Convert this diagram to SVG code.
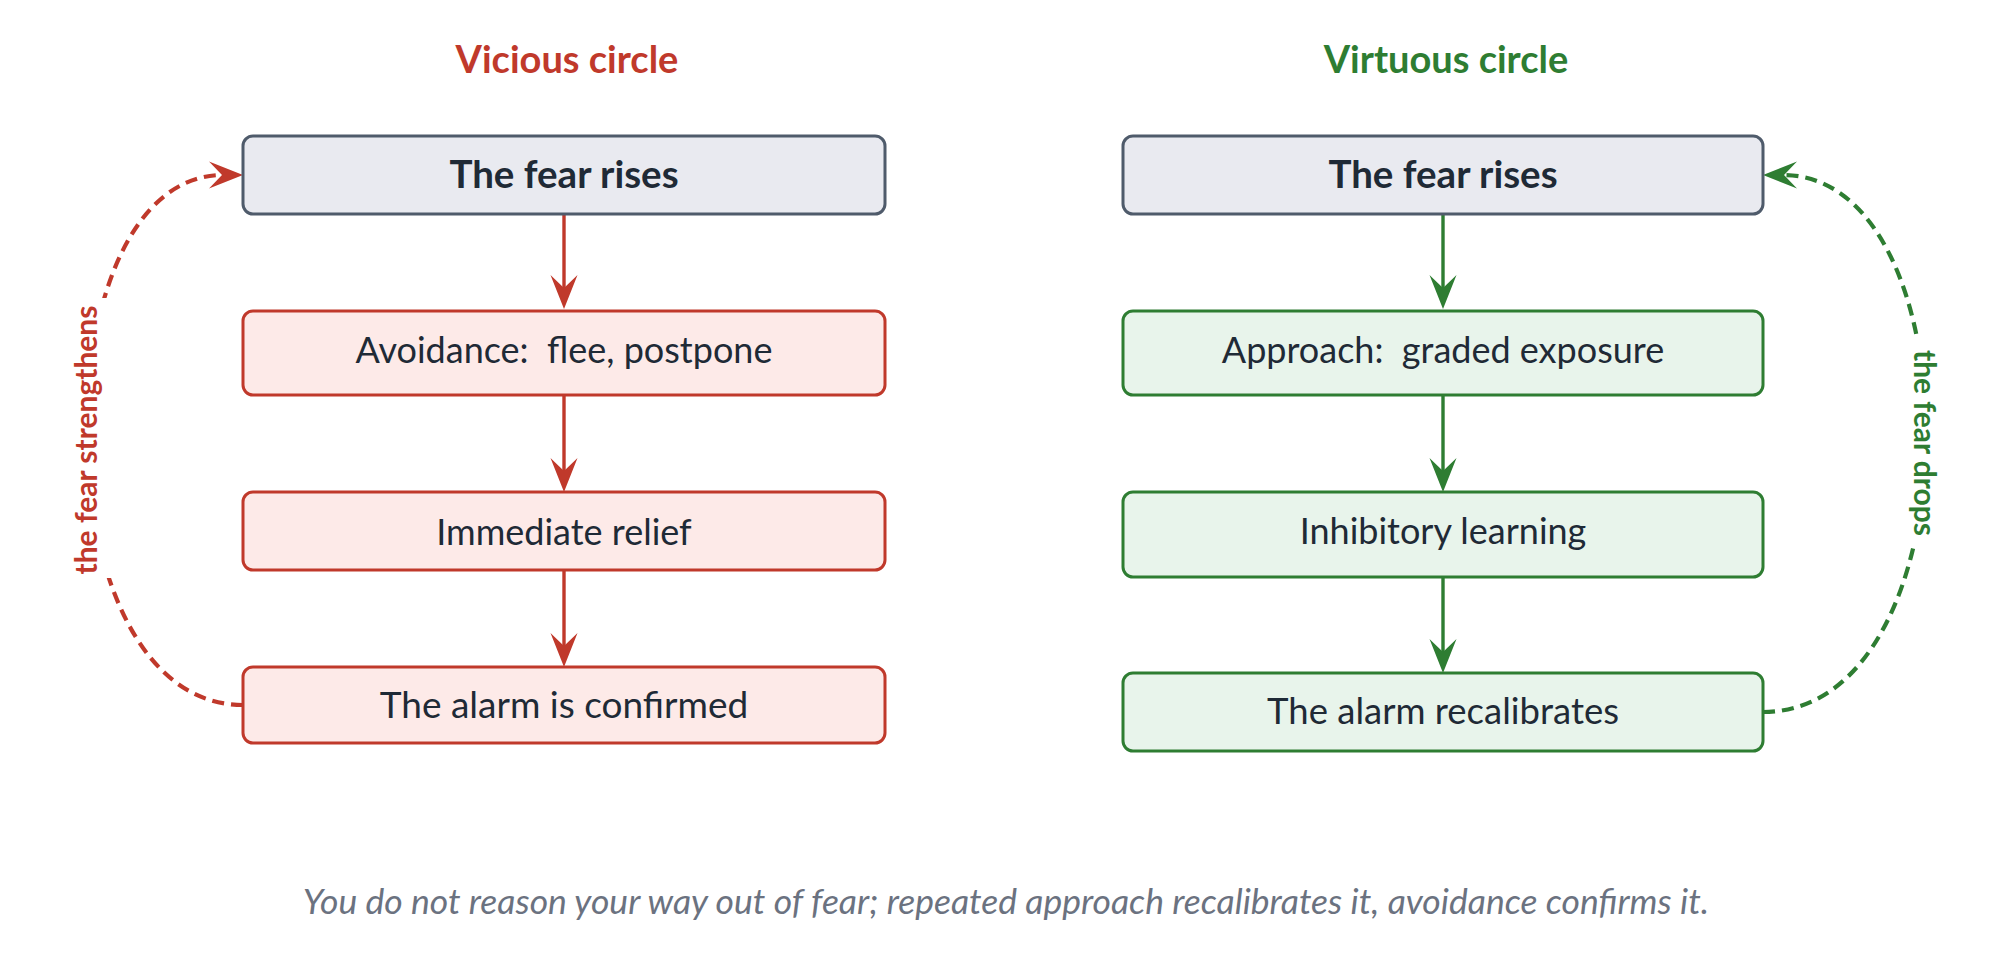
<svg xmlns="http://www.w3.org/2000/svg" width="2011" height="971" viewBox="0 0 2011 971">
<style>
  .box{stroke-width:3}
  .gray{fill:#e9eaf0;stroke:#4f5b6b}
  .red{fill:#fdeae8;stroke:#c0392b}
  .green{fill:#e8f4eb;stroke:#2e7d32}
  .lbl{font-family:Lato,"Liberation Sans",sans-serif;font-size:36px;fill:#1f2a36;text-anchor:middle}
  .b{font-weight:bold;font-size:38.5px}
  .title{font-family:Lato,"Liberation Sans",sans-serif;font-size:38px;font-weight:bold;text-anchor:middle}
  .side{font-family:Lato,"Liberation Sans",sans-serif;font-size:30px;font-weight:bold;text-anchor:middle}
  .cap{font-family:Lato,"Liberation Sans",sans-serif;font-size:35.5px;font-style:italic;fill:#6b7280;text-anchor:middle}
  .solid{fill:none;stroke-width:3.4}
  .dash{fill:none;stroke-width:4.2;stroke-dasharray:12 7}
</style>
<defs>
  <marker id="ar" markerUnits="userSpaceOnUse" markerWidth="40" markerHeight="30" viewBox="0 0 40 30" refX="16" refY="15" orient="auto">
    <path d="M2,1.5 L36,15 L2,28.5 L15,15 Z" fill="#c0392b"/>
  </marker>
  <marker id="ag" markerUnits="userSpaceOnUse" markerWidth="40" markerHeight="30" viewBox="0 0 40 30" refX="16" refY="15" orient="auto">
    <path d="M2,1.5 L36,15 L2,28.5 L15,15 Z" fill="#2e7d32"/>
  </marker>
</defs>
<rect width="2011" height="971" fill="#ffffff"/>
<text class="title" x="567" y="73" fill="#c0392b">Vicious circle</text>
<text class="title" x="1446" y="73" fill="#2e7d32">Virtuous circle</text>

<g id="connectors">
  <line class="solid" stroke="#c0392b" x1="564" y1="215" x2="564" y2="289" marker-end="url(#ar)"/>
  <line class="solid" stroke="#c0392b" x1="564" y1="396" x2="564" y2="472" marker-end="url(#ar)"/>
  <line class="solid" stroke="#c0392b" x1="564" y1="571" x2="564" y2="647" marker-end="url(#ar)"/>
  <line class="solid" stroke="#2e7d32" x1="1443" y1="215" x2="1443" y2="289" marker-end="url(#ag)"/>
  <line class="solid" stroke="#2e7d32" x1="1443" y1="396" x2="1443" y2="472" marker-end="url(#ag)"/>
  <line class="solid" stroke="#2e7d32" x1="1443" y1="578" x2="1443" y2="653" marker-end="url(#ag)"/>
  <path class="dash" stroke="#c0392b" d="M243,705 C38,705 38,175 223,175" marker-end="url(#ar)"/>
  <path class="dash" stroke="#2e7d32" d="M1763,712 C1977,712 1977,175 1783,175" marker-end="url(#ag)"/>
  <rect x="62" y="298" width="50" height="280" fill="#ffffff"/>
  <rect x="1900" y="338" width="50" height="204" fill="#ffffff"/>
  <text class="side" fill="#c0392b" transform="translate(97,440) rotate(-90)">the fear strengthens</text>
  <text class="side" fill="#2e7d32" transform="translate(1914,443) rotate(90)">the fear drops</text>
</g>

<g id="n1"><rect class="box gray" x="243" y="136" width="642" height="78" rx="10"/><text class="lbl b" x="564" y="188">The fear rises</text></g>
<g id="n2"><rect class="box red" x="243" y="311" width="642" height="84" rx="10"/><text class="lbl" x="564" y="363" xml:space="preserve">Avoidance:  flee, postpone</text></g>
<g id="n3"><rect class="box red" x="243" y="492" width="642" height="78" rx="10"/><text class="lbl" x="564" y="545">Immediate relief</text></g>
<g id="n4"><rect class="box red" x="243" y="667" width="642" height="76" rx="10"/><text class="lbl" x="564" y="718" style="font-size:37px">The alarm is confirmed</text></g>

<g id="m1"><rect class="box gray" x="1123" y="136" width="640" height="78" rx="10"/><text class="lbl b" x="1443" y="188">The fear rises</text></g>
<g id="m2"><rect class="box green" x="1123" y="311" width="640" height="84" rx="10"/><text class="lbl" x="1443" y="363" xml:space="preserve">Approach:  graded exposure</text></g>
<g id="m3"><rect class="box green" x="1123" y="492" width="640" height="85" rx="10"/><text class="lbl" x="1443" y="544">Inhibitory learning</text></g>
<g id="m4"><rect class="box green" x="1123" y="673" width="640" height="78" rx="10"/><text class="lbl" x="1443" y="724" style="font-size:36.5px">The alarm recalibrates</text></g>

<text class="cap" x="1006" y="914">You do not reason your way out of fear; repeated approach recalibrates it, avoidance confirms it.</text>
</svg>
